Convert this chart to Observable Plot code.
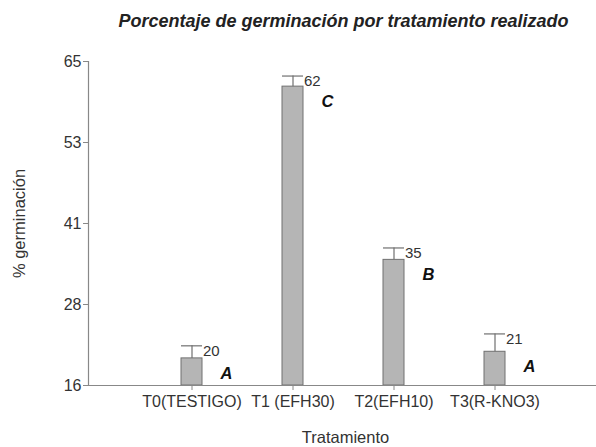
<!DOCTYPE html>
<html>
<head>
<meta charset="utf-8">
<script src="https://cdn.jsdelivr.net/npm/d3@7"></script>
<script src="https://cdn.jsdelivr.net/npm/@observablehq/plot@0.6"></script>
<style>
  body { margin: 0; background: #fff; font-family: "Liberation Sans", Arial, sans-serif; }
  #title { height: 40px; box-sizing: border-box; padding-left: 91px; padding-top: 3px; text-align: center;
           font: italic bold 18px "Liberation Sans", Arial, sans-serif; color: #222; line-height: 37px; }
  #chart svg { display: block; }
</style>
</head>
<body>
<div id="title">Porcentaje de germinación por tratamiento realizado</div>
<div id="chart"></div>
<script>
const treatments = ["T0(TESTIGO)", "T1 (EFH30)", "T2(EFH10)", "T3(R-KNO3)"];
const means = [20.1, 61.2, 35.0, 21.1];
const upperErrors = [22.0, 62.8, 36.8, 23.8];
const valueLabels = ["20", "62", "35", "21"];
const groupLetters = ["A", "C", "B", "A"];
const yTicks = [16, 28.25, 40.5, 52.75, 65];
const yTickLabels = ["16", "28", "41", "53", "65"];

const rows = treatments.map((t, i) => ({
  t, mean: means[i], upper: upperErrors[i], label: valueLabels[i], letter: groupLetters[i]
}));

const W = 596, H = 407, ML = 88, MR = 0;
const plot = Plot.plot({
  width: W,
  height: H,
  marginTop: 21,
  marginBottom: 62,
  marginLeft: ML,
  marginRight: MR,
  style: { fontFamily: "Liberation Sans, Arial, sans-serif", background: "#fff", color: "#222" },
  x: { domain: treatments, range: [139.8, 545.2], paddingInner: 0.793, paddingOuter: 0.3965, label: null },
  y: { domain: [16, 65], label: null },
  marks: [
    Plot.barY(rows, { x: "t", y1: 16, y2: "mean", fill: "#b5b5b5", stroke: "#707070", strokeWidth: 1 }),
    Plot.ruleX(rows, { x: "t", y1: "mean", y2: "upper", stroke: "#707070", strokeWidth: 1.2 }),
    Plot.tickY(rows, { x: "t", y: "upper", stroke: "#707070", strokeWidth: 1.2 }),
    Plot.text(rows, { x: "t", y: "upper", text: "label", dx: 11, dy: 5, textAnchor: "start",
      fontSize: 15, fill: "#333" }),
    Plot.text(rows, { x: "t", y: "mean", text: "letter", dx: 34.5, dy: 15, textAnchor: "middle",
      fontSize: 16.5, fontWeight: "bold", fontStyle: "italic", fill: "#111" }),
    Plot.ruleY([16], { stroke: "#888", strokeWidth: 1.2 }),
    Plot.axisY({ ticks: yTicks, tickFormat: (d) => yTickLabels[yTicks.indexOf(d)], tickSize: 5,
      tickPadding: 2, fontSize: 16, stroke: "#888", label: null, color: "#333" }),
    Plot.ruleX([0], { x: null, dx: -(W - ML - MR) / 2, y1: 16, y2: 65, stroke: "#888", strokeWidth: 1.2 }),
    Plot.axisX({ tickSize: 5, tickPadding: 5, fontSize: 16, stroke: "#888", label: null, color: "#333" }),
    Plot.text(["Tratamiento"], { frameAnchor: "bottom", dx: 3, dy: 52, fontSize: 16.5, fill: "#333",
      lineAnchor: "middle", textAnchor: "middle" }),
    Plot.text(["% germinación"], { frameAnchor: "left", dx: -69, rotate: -90, fontSize: 16.5, fill: "#333",
      textAnchor: "middle", lineAnchor: "middle" })
  ]
});
document.getElementById("chart").appendChild(plot);
</script>
</body>
</html>
